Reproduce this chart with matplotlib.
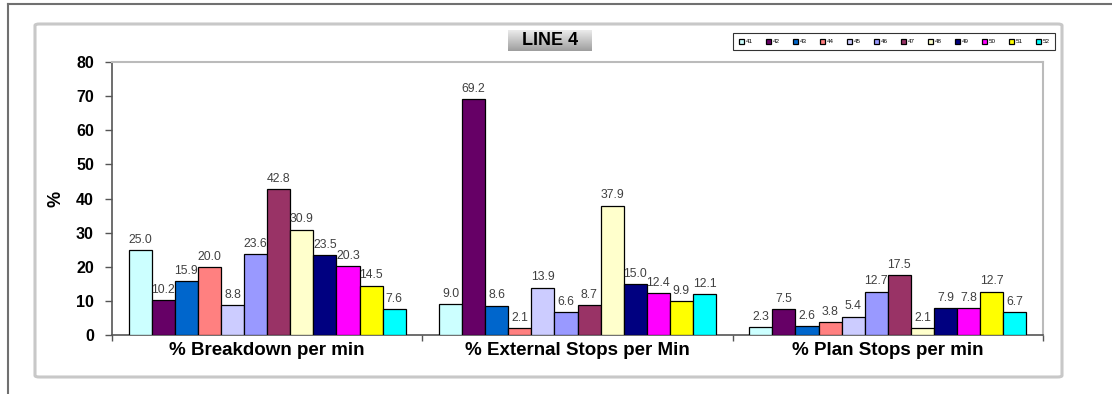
import numpy as np
import matplotlib.pyplot as plt
from matplotlib.patches import FancyBboxPatch
from matplotlib.lines import Line2D

categories = ["% Breakdown per min", "% External Stops per Min", "% Plan Stops per min"]
series_names = ["41", "42", "43", "44", "45", "46", "47", "48", "49", "50", "51", "52"]
breakdown = [25.0, 10.2, 15.9, 20.0, 8.8, 23.6, 42.8, 30.9, 23.5, 20.3, 14.5, 7.6]
external = [9.0, 69.2, 8.6, 2.1, 13.9, 6.6, 8.7, 37.9, 15.0, 12.4, 9.9, 12.1]
plan = [2.3, 7.5, 2.6, 3.8, 5.4, 12.7, 17.5, 2.1, 7.9, 7.8, 12.7, 6.7]
y_ticks = [0, 10, 20, 30, 40, 50, 60, 70, 80]
colors = ["#CCFFFF", "#660066", "#0066CC", "#FF8080", "#CCCCFF", "#9999FF",
          "#993366", "#FFFFCC", "#000080", "#FF00FF", "#FFFF00", "#00FFFF"]

plt.rcParams['font.family'] = ['Liberation Sans', 'DejaVu Sans']

W, H = 1112, 394
fig = plt.figure(figsize=(W / 100, H / 100), dpi=100)
fig.patch.set_facecolor("white")

def fx(px):
    return px / W

def fy(py):
    return 1 - py / H

# outer sheet frame
fig.add_artist(Line2D([fx(8), 1.0], [fy(4), fy(4)], color="#707070", lw=1.5))
fig.add_artist(Line2D([fx(8), fx(8)], [fy(4), 0.0], color="#707070", lw=1.5))

# chart area frame
fig.add_artist(FancyBboxPatch((fx(35), fy(377)), fx(1062) - fx(35), fy(24) - fy(377),
                              boxstyle="round,pad=0,rounding_size=0.004",
                              transform=fig.transFigure, fill=False,
                              edgecolor="#c8c8c8", lw=2.2))

ax = fig.add_axes([fx(112), fy(335), fx(1043) - fx(112), fy(62) - fy(335)])

data = np.array([breakdown, external, plan])
n = len(series_names)
group_w = 0.893
w = group_w / n
x = np.arange(len(categories))
for i, name in enumerate(series_names):
    xs = x - group_w / 2 + w * (i + 0.5)
    bars = ax.bar(xs, data[:, i], width=w, color=colors[i], edgecolor="black",
                  linewidth=0.9, label=name, zorder=3)
    for b, v in zip(bars, data[:, i]):
        ax.annotate(f"{v:.1f}", (b.get_x() + b.get_width() / 2, v),
                    xytext=(0, 3), textcoords="offset points",
                    ha="center", va="bottom", fontsize=8.8, color="#404040")

ax.set_xlim(-0.5, 2.5)
ax.set_ylim(0, 80)
ax.set_yticks(y_ticks)
ax.set_yticklabels([str(t) for t in y_ticks], fontsize=11.5, fontweight="bold")
ax.set_xticks(x)
ax.set_xticklabels(categories, fontsize=13.5, fontweight="bold")
ax.tick_params(axis="x", length=0, pad=5)
ax.set_xticks([-0.5, 0.5, 1.5, 2.5], minor=True)
ax.tick_params(axis="x", which="minor", length=4, width=1, color="#555555")
ax.tick_params(axis="y", length=5, width=1, color="#555555", pad=8)
ax.set_ylabel("%", fontsize=13, fontweight="bold", labelpad=8)

for s in ["left", "bottom"]:
    ax.spines[s].set_color("#555555")
    ax.spines[s].set_linewidth(1.2)
for s in ["top", "right"]:
    ax.spines[s].set_color("#bbbbbb")
    ax.spines[s].set_linewidth(1.5)

# title box with grey shading
tax = fig.add_axes([fx(508), fy(51), fx(592) - fx(508), fy(30) - fy(51)])
grad = np.linspace(0.92, 0.62, 50).reshape(-1, 1)
tax.imshow(grad, cmap="gray", vmin=0, vmax=1, aspect="auto", extent=[0, 1, 0, 1],
           origin="upper")
tax.set_axis_off()
tax.text(0.5, 0.5, "LINE 4", ha="center", va="center", fontsize=13,
         fontweight="bold", color="black", transform=tax.transAxes)

leg = fig.legend(loc="lower left",
                 bbox_to_anchor=(fx(733), fy(50), fx(1055) - fx(733), fy(36) - fy(50)),
                 mode="expand", ncol=n, fontsize=4.5, frameon=True,
                 handlelength=0.8, handleheight=0.8, handletextpad=0.3,
                 columnspacing=0.6, borderpad=0.9, borderaxespad=0)
leg.get_frame().set_edgecolor("black")
leg.get_frame().set_linewidth(0.8)
leg.get_frame().set_boxstyle("square", pad=0)

fig.savefig("out.png", dpi=100)
